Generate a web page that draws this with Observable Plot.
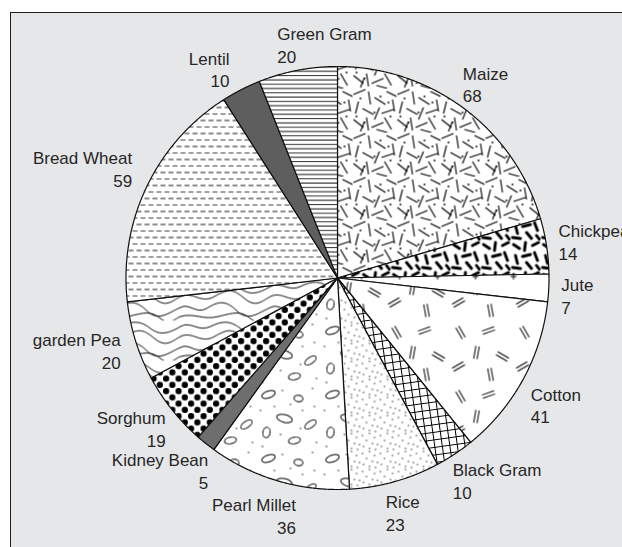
<!DOCTYPE html>
<html><head><meta charset="utf-8">
<script src="https://cdn.jsdelivr.net/npm/d3@7"></script>
<script src="https://cdn.jsdelivr.net/npm/@observablehq/plot@0.6"></script>
<style>
html,body{margin:0;padding:0;background:#fff;}
#wrap{position:relative;width:622px;height:547px;overflow:hidden;}
#panel{position:absolute;left:10px;top:12px;width:700px;height:700px;background:#e6e7e9;border:1.5px solid #1e1e1e;box-sizing:border-box;}
#chart{position:absolute;left:0;top:0;}
</style></head><body>
<svg width="0" height="0" style="position:absolute">
<defs>
<pattern id="p-maize" patternUnits="userSpaceOnUse" width="44" height="44">
<rect width="44" height="44" fill="#fff"/>
<path fill="none" stroke="#000" stroke-width="1.15" d="M1 6L13 1M16 3L18 16M22 9L33 16M34 3L44 8M6 13L3 25M10 20L21 26M27 19L22 31M29 25L41 21M1 31L11 39M14 29L16 42M19 39L31 34M32 29L39 41M40 11L42 23M24 41L35 44M8 43L12 33"/>
<g fill="#000"><circle cx="8" cy="10" r="0.9"/><circle cx="28" cy="8" r="0.9"/><circle cx="38" cy="28" r="0.9"/><circle cx="12" cy="34" r="0.9"/><circle cx="22" cy="24" r="0.9"/><circle cx="36" cy="14" r="0.9"/><circle cx="4" cy="28" r="0.9"/></g>
</pattern>
<pattern id="p-chickpea" patternUnits="userSpaceOnUse" width="30" height="30">
<rect width="30" height="30" fill="#fff"/>
<path fill="none" stroke="#000" stroke-width="2.9" stroke-linecap="round" d="M3 4L9 8M15 2L14 10M22 5L28 2M5 15L7 23M12 16L20 14M24 12L27 20M2 27L10 28M16 22L21 28M26 25L29 29"/>
</pattern>
<pattern id="p-jute" patternUnits="userSpaceOnUse" width="38" height="24">
<rect width="38" height="24" fill="#fff"/>
<path fill="none" stroke="#000" stroke-width="1" d="M16 12H22M19 9V15"/>
</pattern>
<pattern id="p-cotton" patternUnits="userSpaceOnUse" width="64" height="64">
<rect width="64" height="64" fill="#fff"/>
<g fill="none" stroke="#000" stroke-width="1">
<g transform="translate(12,12) rotate(60)"><path d="M-6.5 -1.7H6.5M-6.5 1.7H6.5"/></g>
<g transform="translate(40,10) rotate(-20)"><path d="M-6.5 -1.7H6.5M-6.5 1.7H6.5"/></g>
<g transform="translate(28,32) rotate(100)"><path d="M-6.5 -1.7H6.5M-6.5 1.7H6.5"/></g>
<g transform="translate(54,36) rotate(30)"><path d="M-6.5 -1.7H6.5M-6.5 1.7H6.5"/></g>
<g transform="translate(10,46) rotate(-30)"><path d="M-6.5 -1.7H6.5M-6.5 1.7H6.5"/></g>
<g transform="translate(42,54) rotate(80)"><path d="M-6.5 -1.7H6.5M-6.5 1.7H6.5"/></g>
</g>
</pattern>
<pattern id="p-blackgram" patternUnits="userSpaceOnUse" width="7.5" height="7.5" patternTransform="rotate(-8)">
<rect width="7.5" height="7.5" fill="#fff"/>
<path fill="none" stroke="#000" stroke-width="1" d="M0 0.5H7.5M0.5 0V7.5"/>
</pattern>
<pattern id="p-rice" patternUnits="userSpaceOnUse" width="18" height="18">
<rect width="18" height="18" fill="#fff"/>
<g fill="#111"><circle cx="2" cy="3" r="0.65"/><circle cx="9" cy="1" r="0.65"/><circle cx="14" cy="5" r="0.65"/><circle cx="6" cy="8" r="0.65"/><circle cx="12" cy="11" r="0.65"/><circle cx="17" cy="12" r="0.65"/><circle cx="3" cy="14" r="0.65"/><circle cx="9" cy="16" r="0.65"/><circle cx="15" cy="17" r="0.65"/></g>
</pattern>
<pattern id="p-millet" patternUnits="userSpaceOnUse" width="64" height="64">
<rect width="64" height="64" fill="#fff"/>
<g fill="none" stroke="#000" stroke-width="1">
<ellipse cx="12" cy="10" rx="7" ry="3.4" transform="rotate(-20 12 10)"/>
<ellipse cx="42" cy="14" rx="4.5" ry="3.2" transform="rotate(10 42 14)"/>
<ellipse cx="28" cy="34" rx="8" ry="3.8" transform="rotate(15 28 34)"/>
<ellipse cx="54" cy="40" rx="6.5" ry="3.2" transform="rotate(-35 54 40)"/>
<ellipse cx="10" cy="48" rx="3.6" ry="5.2" transform="rotate(10 10 48)"/>
<ellipse cx="38" cy="56" rx="6" ry="3.2" transform="rotate(-10 38 56)"/>
</g>
<g fill="#111"><circle cx="26" cy="6" r="0.75"/><circle cx="56" cy="4" r="0.75"/><circle cx="4" cy="26" r="0.75"/><circle cx="18" cy="22" r="0.75"/><circle cx="46" cy="26" r="0.75"/><circle cx="60" cy="58" r="0.75"/><circle cx="24" cy="50" r="0.75"/><circle cx="44" cy="44" r="0.75"/><circle cx="6" cy="62" r="0.75"/><circle cx="34" cy="20" r="0.75"/><circle cx="58" cy="22" r="0.75"/></g>
</pattern>
<pattern id="p-sorghum" patternUnits="userSpaceOnUse" width="12.5" height="12.5">
<rect width="12.5" height="12.5" fill="#fff"/>
<g fill="#000"><circle cx="3.1" cy="3.1" r="3.1"/><circle cx="9.35" cy="9.35" r="3.1"/></g>
</pattern>
<pattern id="p-pea" patternUnits="userSpaceOnUse" width="90" height="40">
<rect width="90" height="40" fill="#fff"/>
<g fill="none" stroke="#000" stroke-width="0.95">
<path d="M0 6C10 0 18 12 30 6S50 0 60 8S80 12 90 6"/>
<path d="M0 16C12 10 20 24 34 16S52 8 64 18S82 20 90 16"/>
<path d="M0 27C8 22 16 34 26 28S44 18 56 30S78 32 90 27"/>
<path d="M0 36C14 32 22 40 38 36S60 30 70 38S84 38 90 36"/>
</g>
</pattern>
<pattern id="p-wheat" patternUnits="userSpaceOnUse" width="8" height="13">
<rect width="8" height="13" fill="#fff"/>
<path fill="none" stroke="#1a1a1a" stroke-width="1" d="M0 3H5"/>
<path fill="none" stroke="#444" stroke-width="1" d="M4 9.5H9M-1 9.5H1"/>
</pattern>
<pattern id="p-greengram" patternUnits="userSpaceOnUse" width="10" height="8.6">
<rect width="10" height="8.6" fill="#fff"/>
<path fill="none" stroke="#111" stroke-width="1" d="M0 2H10"/>
<path fill="none" stroke="#333" stroke-width="1" d="M0 6.3H10"/>
</pattern>
</defs></svg>
<div id="wrap"><div id="panel"></div><div id="chart"></div></div>
<script>
// ---- data ----
const crops = ["Maize","Chickpea","Jute","Cotton","Black Gram","Rice","Pearl Millet","Kidney Bean","Sorghum","garden Pea","Bread Wheat","Lentil","Green Gram"];
const counts = [68,14,7,41,10,23,36,5,19,20,59,10,20];

// ---- styles ----
const fills = ["url(#p-maize)","url(#p-chickpea)","url(#p-jute)","url(#p-cotton)","url(#p-blackgram)","url(#p-rice)","url(#p-millet)","#6e6e6e","url(#p-sorghum)","url(#p-pea)","url(#p-wheat)","#5e5e5e","url(#p-greengram)"];
const labelNudge = {
  "Green Gram": {dx: 38, dy: 5, anchor: "start"},
  "Lentil": {dx: -17, dy: 7},
  "Jute": {dy: 6},
  "Cotton": {dy: 10},
  "Black Gram": {dx: 11},
  "Pearl Millet": {dx: -9, dy: 4},
  "Kidney Bean": {dx: -8, dy: 2},
  "Sorghum": {dx: -4, dy: -1},
  "garden Pea": {dx: -5},
  "Bread Wheat": {dx: -8, dy: -5}
};

// ---- layout ----
const W = 622, H = 547, cx = 337, cy = 277.5, r = 211.5, R = 224, boxH = 38;
const font = "'Liberation Sans', Arial, Helvetica, sans-serif";

const arcs = d3.pie().sort(null).startAngle(0).endAngle(2 * Math.PI)(counts);

const pts = [];
arcs.forEach((a, i) => {
  pts.push({slice: crops[i], fill: fills[i], x: 0, y: 0});
  const n = Math.max(2, Math.ceil((a.endAngle - a.startAngle) / 0.004));
  for (let k = 0; k <= n; k++) {
    const t = a.startAngle + (a.endAngle - a.startAngle) * k / n;
    pts.push({slice: crops[i], fill: fills[i], x: Math.sin(t), y: Math.cos(t)});
  }
  pts.push({slice: crops[i], fill: fills[i], x: 0, y: 0});
});

const ctx = document.createElement("canvas").getContext("2d");
ctx.font = "17px " + font;
const labels = arcs.map((a, i) => {
  const m = (a.startAngle + a.endAngle) / 2, s = Math.sin(m), c = Math.cos(m);
  const w = Math.max(ctx.measureText(crops[i]).width, ctx.measureText(String(counts[i])).width);
  const nd = labelNudge[crops[i]] || {};
  const xc = cx + R * s + (w / 2) * s + (nd.dx || 0);
  const yc = cy - R * c - (boxH / 2) * c + (nd.dy || 0);
  const anchor = nd.anchor || (s >= 0 ? "start" : "end");
  const px = anchor === "start" ? xc - w / 2 : xc + w / 2;
  return {text: crops[i] + "\n" + counts[i], anchor, x: (px - cx) / r, y: (cy - yc) / r};
});

const textOpts = (anchor) => ({x: "x", y: "y", text: "text", textAnchor: anchor, lineAnchor: "middle",
  lineHeight: 1.34, fontSize: 17, fontFamily: font, fill: "#262626"});

const plot = Plot.plot({
  width: W, height: H,
  style: {background: "transparent", overflow: "visible"},
  x: {domain: [-1, 1], range: [cx - r, cx + r], axis: null},
  y: {domain: [-1, 1], range: [cy + r, cy - r], axis: null},
  color: {type: "identity"},
  marks: [
    Plot.line(pts, {x: "x", y: "y", z: "slice", fill: "fill", stroke: "#111", strokeWidth: 1.2, strokeLinejoin: "round", curve: "linear"}),
    Plot.text(labels.filter(d => d.anchor === "start"), textOpts("start")),
    Plot.text(labels.filter(d => d.anchor === "end"), textOpts("end"))
  ]
});
document.getElementById("chart").appendChild(plot);
</script>
</body></html>
